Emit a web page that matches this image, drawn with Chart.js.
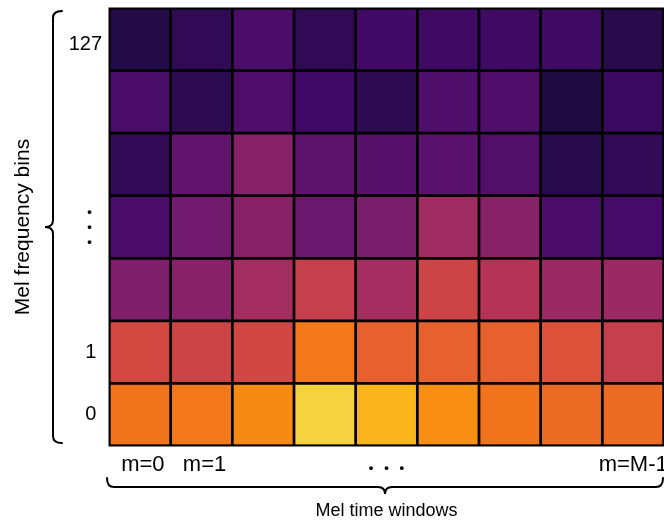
<!DOCTYPE html>
<html>
<head>
<meta charset="utf-8">
<script src="https://cdn.jsdelivr.net/npm/chart.js@4/dist/chart.umd.min.js"></script>
<style>
  html, body { margin: 0; padding: 0; background: #fff; }
  #wrap { width: 664px; height: 520px; }
</style>
</head>
<body>
<div id="wrap"><canvas id="c" width="664" height="520"></canvas></div>
<script>
// Time-window labels along the bottom (one per column)
const timeWindows = [' m=0', ' m=1', '', '', '•   •   •', '', '', '', 'm=M-1'];

// Frequency-bin labels on the left and where each one sits (row units, 0 = bottom)
const binTickPos = [0.5, 1.5, 3.5, 6.42];
const binTickLabels = ['0 ', '1 ', ['• \u2002', '• \u2002', '• \u2002'], '127'];

// Normalised log-mel energy per cell, one array per frequency row (bottom → top)
const row0 = [0.69, 0.70, 0.74, 0.89, 0.83, 0.75, 0.69, 0.67, 0.67];
const row1 = [0.57, 0.55, 0.56, 0.70, 0.64, 0.64, 0.64, 0.60, 0.53];
const row2 = [0.35, 0.37, 0.44, 0.53, 0.44, 0.55, 0.48, 0.42, 0.42];
const row3 = [0.22, 0.32, 0.37, 0.30, 0.34, 0.43, 0.37, 0.22, 0.21];
const row4 = [0.16, 0.28, 0.37, 0.27, 0.25, 0.26, 0.24, 0.14, 0.16];
const row5 = [0.22, 0.15, 0.23, 0.20, 0.15, 0.23, 0.23, 0.12, 0.18];
const row6 = [0.13, 0.16, 0.22, 0.16, 0.20, 0.19, 0.19, 0.19, 0.14];
const energyRows = [row0, row1, row2, row3, row4, row5, row6];

// Inferno colour map stops (0 → 1 in steps of 0.1)
const INFERNO = [
  [0, 0, 4], [22, 11, 57], [66, 10, 104], [106, 23, 110], [147, 38, 103],
  [188, 55, 84], [221, 81, 58], [243, 120, 25], [252, 165, 10], [246, 215, 70],
  [252, 255, 164]
];
function inferno(v) {
  const t = Math.max(0, Math.min(1, v)) * (INFERNO.length - 1);
  const i = Math.min(Math.floor(t), INFERNO.length - 2);
  const f = t - i;
  const a = INFERNO[i], b = INFERNO[i + 1];
  const c = a.map((x, k) => Math.round(x + (b[k] - x) * f));
  return `rgb(${c[0]},${c[1]},${c[2]})`;
}

const FONT = "'Liberation Sans', Arial, Helvetica, sans-serif";

// Each frequency row is one dataset of floating bars spanning [row, row + 1]
const datasets = energyRows.map((vals, r) => ({
  data: vals.map(() => [r, r + 1]),
  backgroundColor: vals.map(inferno),
  borderColor: '#000',
  borderWidth: 1.7,
  borderSkipped: false,
  grouped: false,
  barPercentage: 1,
  categoryPercentage: 1
}));

// Curly braces beside the axes
function braceV(ctx, x, y1, y2, depth, tip) {
  const ym = (y1 + y2) / 2;
  const r = 7;
  ctx.beginPath();
  ctx.moveTo(x + depth, y1);
  ctx.quadraticCurveTo(x, y1, x, y1 + r);
  ctx.lineTo(x, ym - r);
  ctx.quadraticCurveTo(x, ym, x - tip, ym);
  ctx.quadraticCurveTo(x, ym, x, ym + r);
  ctx.lineTo(x, y2 - r);
  ctx.quadraticCurveTo(x, y2, x + depth, y2);
  ctx.stroke();
}
function braceH(ctx, y, x1, x2, depth, tip) {
  const xm = (x1 + x2) / 2;
  const r = 7;
  ctx.beginPath();
  ctx.moveTo(x1, y - depth);
  ctx.quadraticCurveTo(x1, y, x1 + r, y);
  ctx.lineTo(xm - r, y);
  ctx.quadraticCurveTo(xm, y, xm, y + tip);
  ctx.quadraticCurveTo(xm, y, xm + r, y);
  ctx.lineTo(x2 - r, y);
  ctx.quadraticCurveTo(x2, y, x2, y - depth);
  ctx.stroke();
}

const bracePlugin = {
  id: 'braces',
  afterDraw(chart) {
    const { ctx, chartArea: a } = chart;
    ctx.save();
    ctx.strokeStyle = '#000';
    ctx.lineWidth = 2;
    ctx.lineCap = 'round';
    braceV(ctx, 53, a.top + 3, a.bottom - 3, 9, 8);
    braceH(ctx, 487, a.left - 2, a.right - 1, 9, 7);
    // outer frame of the grid
    ctx.lineWidth = 2;
    ctx.strokeRect(a.left + 0.5, a.top + 0.5, a.right - a.left - 1, a.bottom - a.top - 1);
    ctx.restore();
  }
};

new Chart(document.getElementById('c'), {
  type: 'bar',
  data: { labels: timeWindows, datasets },
  plugins: [bracePlugin],
  options: {
    responsive: false,
    animation: false,
    layout: { padding: { top: 8, right: 0, bottom: 0, left: 0 } },
    plugins: { legend: { display: false }, tooltip: { enabled: false } },
    scales: {
      x: {
        type: 'category',
        grid: { display: false, drawTicks: false },
        border: { display: false },
        ticks: {
          color: '#000',
          padding: 6,
          maxRotation: 0,
          autoSkip: false,
          font: (c) => c.index === 4
            ? { family: FONT, size: 13, weight: 'bold', lineHeight: '32px' }
            : { family: FONT, size: 22 }
        },
        title: {
          display: true, text: 'Mel time windows', color: '#000',
          font: { family: FONT, size: 18 }, padding: { top: 0, bottom: -2 }
        },
        afterFit(s) { s.height = 74; s.paddingLeft = 0; s.paddingRight = 0; }
      },
      y: {
        type: 'linear',
        min: 0, max: 7,
        grid: { display: false, drawTicks: false },
        border: { display: false },
        afterBuildTicks(s) { s.ticks = binTickPos.map(v => ({ value: v })); },
        ticks: {
          color: '#000',
          padding: 7,
          callback: (v, i) => binTickLabels[i],
          font: (c) => c.index === 2
            ? { family: FONT, size: 13, weight: 'bold', lineHeight: '15px' }
            : { family: FONT, size: 20 }
        },
        title: {
          display: true, text: 'Mel frequency bins', color: '#000',
          font: { family: FONT, size: 21 }, padding: { top: 11, bottom: 0 }
        },
        afterFit(s) { s.width = 109; s.paddingTop = 0; s.paddingBottom = 0; }
      }
    }
  }
});
</script>
</body>
</html>
